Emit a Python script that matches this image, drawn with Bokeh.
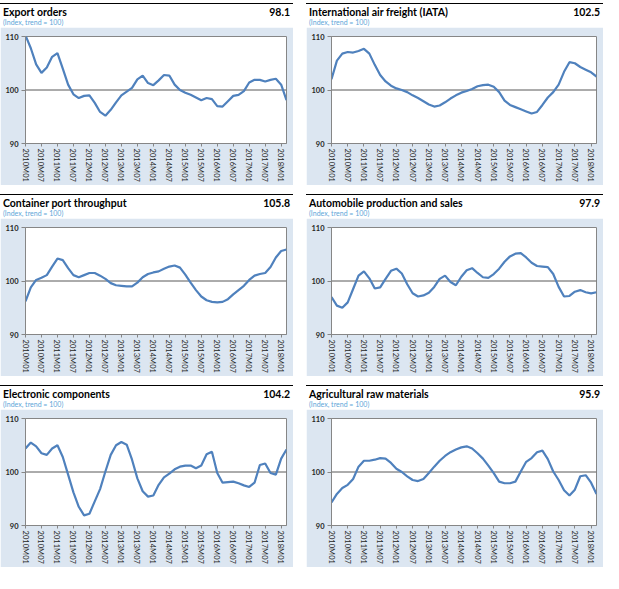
from bokeh.plotting import figure
from bokeh.models import Range1d, FixedTicker, Span, Spacer, Div
from bokeh.layouts import column, row
from bokeh.embed import file_html
from bokeh.resources import INLINE

# bimonthly observations, month 0 = 2010M01
month_index = list(range(0, 99, 2))

tick_months = [0, 6, 12, 18, 24, 30, 36, 42, 48, 54, 60, 66, 72, 78, 84, 90, 96]
tick_labels = ["2010M01", "2010M07", "2011M01", "2011M07", "2012M01", "2012M07",
               "2013M01", "2013M07", "2014M01", "2014M07", "2015M01", "2015M07",
               "2016M01", "2016M07", "2017M01", "2017M07", "2018M01"]

export_orders = [110.2, 107.8, 104.8, 103.2, 104.2, 106.2, 106.9, 104.0, 101.0, 99.2,
                 98.5, 98.9, 99.0, 97.6, 95.9, 95.2, 96.3, 97.7, 99.0, 99.7,
                 100.4, 102.0, 102.7, 101.3, 100.9, 101.8, 102.8, 102.7, 101.0, 100.0,
                 99.5, 99.1, 98.6, 98.1, 98.5, 98.3, 97.0, 96.9, 97.9, 98.9,
                 99.1, 99.8, 101.4, 101.9, 101.9, 101.6, 101.9, 102.1, 101.0, 98.1]

air_freight = [102.0, 105.5, 106.8, 107.1, 107.0, 107.3, 107.7, 106.8, 104.7, 102.8,
               101.6, 100.8, 100.3, 100.0, 99.6, 99.0, 98.5, 97.9, 97.3, 96.9,
               97.1, 97.7, 98.4, 99.0, 99.5, 99.8, 100.2, 100.7, 100.9, 101.0,
               100.6, 99.6, 98.0, 97.2, 96.8, 96.4, 96.0, 95.6, 95.9, 97.2,
               98.6, 99.6, 101.0, 103.4, 105.2, 105.0, 104.3, 103.8, 103.3, 102.5]

container_port = [96.2, 98.8, 100.2, 100.6, 101.1, 102.7, 104.2, 103.9, 102.4, 101.1,
                  100.7, 101.1, 101.5, 101.5, 101.0, 100.4, 99.6, 99.2, 99.1, 99.0,
                  99.0, 99.7, 100.7, 101.3, 101.6, 101.8, 102.3, 102.7, 102.9, 102.5,
                  101.2, 99.7, 98.3, 97.1, 96.4, 96.1, 96.0, 96.1, 96.6, 97.5,
                  98.3, 99.1, 100.2, 101.0, 101.3, 101.5, 102.6, 104.4, 105.6, 105.9]

automobile = [97.0, 95.4, 95.0, 96.0, 98.5, 101.0, 101.8, 100.5, 98.6, 98.8,
              100.4, 101.9, 102.3, 101.4, 99.4, 97.7, 97.1, 97.3, 97.8, 98.9,
              100.4, 101.0, 99.8, 99.2, 100.8, 102.0, 102.4, 101.5, 100.7, 100.6,
              101.3, 102.3, 103.6, 104.6, 105.1, 105.2, 104.4, 103.4, 102.8, 102.7,
              102.6, 101.3, 98.9, 97.1, 97.2, 98.0, 98.3, 97.9, 97.7, 97.9]

electronic = [104.4, 105.5, 104.8, 103.5, 103.2, 104.4, 105.0, 102.8, 99.5, 96.2,
              93.5, 91.9, 92.2, 94.5, 96.8, 100.1, 103.2, 105.0, 105.6, 105.1,
              102.3, 98.8, 96.4, 95.4, 95.6, 97.6, 99.0, 99.7, 100.5, 101.0,
              101.2, 101.2, 100.7, 101.2, 103.3, 103.8, 99.8, 98.0, 98.1, 98.2,
              97.9, 97.5, 97.2, 98.0, 101.3, 101.6, 99.8, 99.5, 102.5, 104.2]

agricultural = [94.3, 95.9, 97.0, 97.6, 98.7, 101.0, 102.1, 102.1, 102.3, 102.6,
                102.5, 101.7, 100.6, 100.0, 99.2, 98.5, 98.3, 98.7, 99.8, 101.0,
                102.1, 103.0, 103.7, 104.2, 104.6, 104.8, 104.4, 103.5, 102.5, 101.2,
                99.8, 98.2, 97.9, 97.9, 98.2, 100.1, 101.9, 102.6, 103.7, 104.0,
                102.4, 100.1, 98.5, 96.6, 95.6, 96.7, 99.2, 99.4, 98.0, 95.9]

titles = ["Export orders", "International air freight (IATA)", "Container port throughput",
          "Automobile production and sales", "Electronic components", "Agricultural raw materials"]
latest = ["98.1", "102.5", "105.8", "97.9", "104.2", "95.9"]
series = [export_orders, air_freight, container_port, automobile, electronic, agricultural]

FONT = "Lato"
BOX = "#DCE6F1"
LINE = "#4F81BD"
COL_W = [293, 297]   # left / right column widths


def make_header(title, val, w):
    # title line: black rule, bold name on the left, latest value on the right, unit note below
    html = (
        f'<div style="position:relative;width:{w}px;height:27px;font-family:Lato,sans-serif;'
        'line-height:1;color:#000;">'
        '<div style="position:absolute;left:0;top:3px;width:100%;height:0;border-top:1.2px solid #000;"></div>'
        f'<span style="position:absolute;left:3px;top:7px;font-size:10.5px;font-weight:bold;">{title}</span>'
        f'<span style="position:absolute;right:3px;top:7px;font-size:10.5px;font-weight:bold;">{val}</span>'
        '<span style="position:absolute;left:3px;top:19px;font-size:7px;color:#5DA5D8;">'
        '(Index, trend = 100)</span></div>'
    )
    return Div(text=html, width=w, height=27, margin=0)


def make_chart(values, w):
    p = figure(width=w, height=158, x_range=Range1d(0, 98), y_range=Range1d(90, 110),
               toolbar_location=None, output_backend="svg",
               min_border_left=25, min_border_right=7, min_border_top=9, min_border_bottom=42)
    p.border_fill_color = BOX
    p.background_fill_color = "white"
    p.outline_line_color = "#868686"
    p.grid.visible = False
    p.add_layout(Span(location=100, dimension="width", line_color="#595959",
                      line_width=1, level="underlay"))
    p.line(month_index, values, line_color=LINE, line_width=2.2)

    p.xaxis.ticker = FixedTicker(ticks=tick_months)
    p.xaxis.major_label_overrides = dict(zip(tick_months, tick_labels))
    p.xaxis.major_label_orientation = "vertical"
    p.xaxis.major_label_text_font = FONT
    p.xaxis.major_label_text_font_size = "7.6px"
    p.xaxis.major_label_text_color = "#262626"
    p.xaxis.major_label_standoff = 2
    p.xaxis.major_tick_out = 3
    p.xaxis.major_tick_in = 0

    p.yaxis.ticker = FixedTicker(ticks=[90, 100, 110])
    p.yaxis.major_label_text_font = FONT
    p.yaxis.major_label_text_font_style = "bold"
    p.yaxis.major_label_text_font_size = "7.5px"
    p.yaxis.major_label_text_color = "#262626"
    p.yaxis.major_label_standoff = 3
    p.yaxis.major_tick_out = 4
    p.yaxis.major_tick_in = 0

    p.axis.axis_line_color = "#868686"
    p.axis.major_tick_line_color = "#868686"
    p.axis.minor_tick_line_color = None
    return p


panels = []
for i, (t, v, s) in enumerate(zip(titles, latest, series)):
    w = COL_W[i % 2]
    panels.append(column(make_header(t, v, w), make_chart(s, w), Spacer(width=w, height=6)))

layout = column(
    row(panels[0], Spacer(width=13, height=10), panels[1]),
    row(panels[2], Spacer(width=13, height=10), panels[3]),
    row(panels[4], Spacer(width=13, height=10), panels[5]),
)

open("out.html", "w").write(file_html(layout, INLINE))
